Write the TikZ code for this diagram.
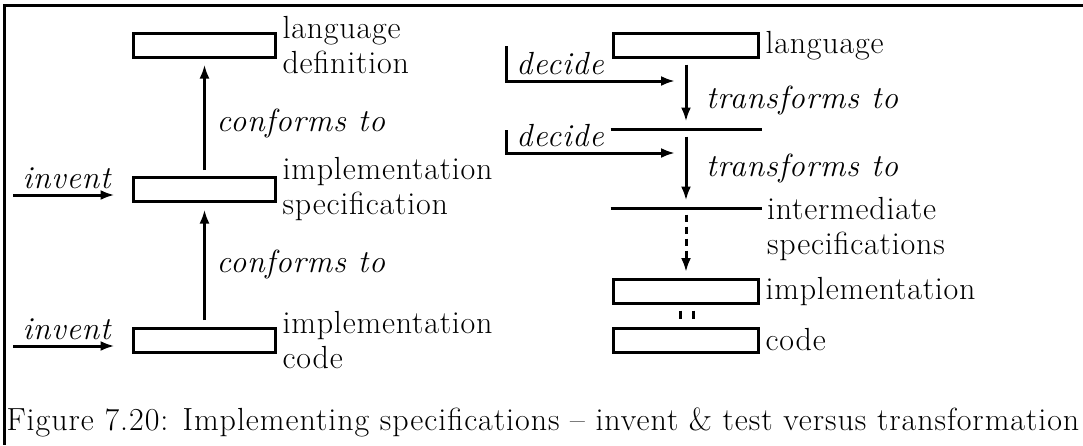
\documentclass[tikz,border=0pt]{standalone}
\usepackage{fontspec}
\setmainfont{Latin Modern Roman}[LetterSpace=2.5]
\usetikzlibrary{arrows.meta,positioning}

\tikzset{
  box/.style={draw,minimum width=71pt,minimum height=12pt,inner sep=0pt},
  boxr/.style={box,minimum width=72.5pt},
  hline/.style={minimum width=74pt,minimum height=0pt,inner sep=0pt},
  lbl/.style={anchor=west,align=left,inner sep=2pt},
  verb/.style={font=\fontsize{16}{17.5}\selectfont\itshape}
}

\begin{document}
\begin{tikzpicture}[x=0.5pt,y=-0.5pt,line width=1.5pt,
  >={Latex[length=7pt,width=5pt]},
  font=\fontsize{16}{17.5}\selectfont]
\useasboundingbox (0,0) rectangle (1083,445);
\draw (1083,5) -| (4,445); % --- frame

% --- invent & test (left)
\node[box] (ldef) at (204.5,45.5) {};
\node[box] (ispec) at (204.5,189) {};
\node[box] (icode) at (204.5,340) {};
\node[lbl] (ldeft) at (ldef.east) {language\\definition};
\node[lbl] (ispect) at (ispec.east) {implementation\\specification};
\node[lbl] (icodet) at (icode.east) {implementation\\code};

\draw[->,shorten <=2.75pt,shorten >=2.75pt] (ispec) -- node[right=2pt,pos=0.45,verb]{conforms to} (ldef);
\draw[->,shorten <=3.25pt,shorten >=3.5pt] (icode) -- node[right=2pt,verb]{conforms to} (ispec);

\coordinate (inv1) at (13,195);
\coordinate (inv2) at (13,346);
\draw[->,shorten >=8.75pt] (inv1) -- node[above=-1pt,pos=0.45,verb]{invent} (inv1 -| ispec.west);
\draw[->,shorten >=8.75pt] (inv2) -- node[above=-1pt,pos=0.45,verb]{invent} (inv2 -| icode.west);

% --- transformation (right)
\node[boxr] (lang) at (686,45.5) {};
\node[hline] (tr1) at (686,129) {};
\node[hline] (tr2) at (686,208) {};
\node[boxr] (implr) at (686,291.5) {};
\node[boxr] (coder) at (686,340) {};
\draw (tr1.west) -- (tr1.east);
\draw (tr2.west) -- (tr2.east);
\node[lbl] (langt) at (lang.east) {language};
\node[lbl,anchor=north west] (tr2t) at ([yshift=8pt]tr2.east) {intermediate\\specifications};
\node[lbl] (implrt) at (implr.east) {implementation};
\node[lbl] (codert) at (coder.east) {code};

\draw[->,shorten <=2.75pt,shorten >=3pt] (lang) -- node[right=6pt,pos=0.6,verb]{transforms to} (tr1);
\draw[->,shorten <=3pt,shorten >=3pt] (tr1) -- node[right=6pt,verb]{transforms to} (tr2);
\draw[->,dash pattern=on 3.5pt off 2.5pt,shorten <=2.5pt,shorten >=3pt] (tr2) -- (implr);
\draw ([xshift=-3pt,yshift=-2.75pt]implr.south) -- ([xshift=-3pt,yshift=3.75pt]coder.north);
\draw ([xshift=3.5pt,yshift=-2.75pt]implr.south) -- ([xshift=3.5pt,yshift=3.75pt]coder.north);

\coordinate (dec1) at (506,46);
\coordinate (dec1e) at (675,81);
\coordinate (dec2) at (506,130);
\coordinate (dec2e) at (675,153);
\draw[->] (dec1) |- node[above=-1pt,pos=0.66,verb]{decide} (dec1e);
\draw[->] (dec2) |- node[above=-1pt,pos=0.66,verb]{decide} (dec2e);

% --- caption
\node[anchor=base west,inner sep=0pt] (cap) at (5,430) {\addfontfeatures{LetterSpace=3}Figure 7.20: Implementing specifications -- invent \& test versus transformation};
\end{tikzpicture}
\end{document}
